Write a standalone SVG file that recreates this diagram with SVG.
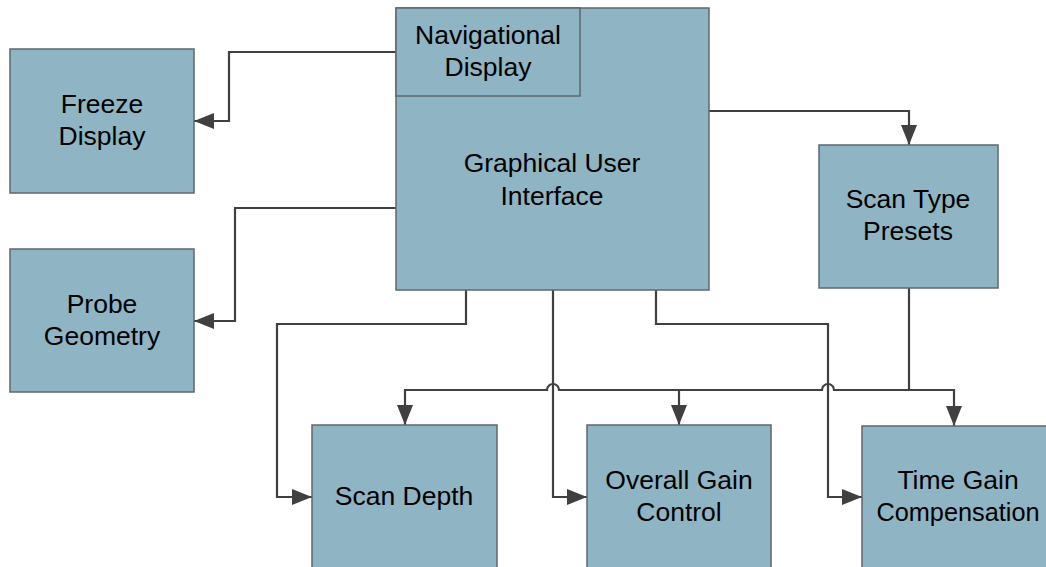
<svg xmlns="http://www.w3.org/2000/svg" width="1046" height="567" viewBox="0 0 1046 567">
  <style>
    .box { fill: #8fb4c3; stroke: #5e686c; stroke-width: 1.5; }
    .lbl { font-family: "Liberation Sans", Arial, sans-serif; font-size: 26.5px; fill: #000; text-anchor: middle; }
    .wire { fill: none; stroke: #404040; stroke-width: 2.2; stroke-linejoin: miter; }
  </style>
  <defs>
    <marker id="head" viewBox="0 0 20 16" refX="20" refY="8" markerWidth="20" markerHeight="16" orient="auto" markerUnits="userSpaceOnUse">
      <path d="M0,0 L20,8 L0,16 z" fill="#404040"/>
    </marker>
  </defs>

  <rect width="1046" height="567" fill="#ffffff"/>

  <!-- connectors -->
  <g id="connectors">
    <!-- GUI to Freeze Display -->
    <path class="wire" d="M396,52 H229 V121 H194" marker-end="url(#head)"/>
    <!-- GUI to Probe Geometry -->
    <path class="wire" d="M396,208 H235 V321 H194" marker-end="url(#head)"/>
    <!-- GUI to Scan Type Presets -->
    <path class="wire" d="M709,111 H909 V145" marker-end="url(#head)"/>
    <!-- GUI to Scan Depth -->
    <path class="wire" d="M466,290 V324 H277 V497 H312" marker-end="url(#head)"/>
    <!-- GUI to Overall Gain Control -->
    <path class="wire" d="M553,290 V497 H587" marker-end="url(#head)"/>
    <!-- GUI to Time Gain Compensation -->
    <path class="wire" d="M656,290 V324 H828 V497 H862" marker-end="url(#head)"/>
    <!-- Scan Type Presets distribution bus, hopping over the vertical wires -->
    <path class="wire" d="M909,288 V390"/>
    <path class="wire" d="M954,390 H834 A6,6 0 0 0 822,390 H559 A6,6 0 0 0 547,390 H405 V425" marker-end="url(#head)"/>
    <path class="wire" d="M679,390 V425" marker-end="url(#head)"/>
    <path class="wire" d="M954,389 V426" marker-end="url(#head)"/>
  </g>

  <g id="gui">
    <rect class="box" x="396" y="8" width="313" height="282"/>
    <text class="lbl" x="552" y="172">Graphical User</text>
    <text class="lbl" x="552" y="205">Interface</text>
  </g>

  <g id="nav-display">
    <rect class="box" x="396" y="8" width="184" height="88"/>
    <text class="lbl" x="488" y="44">Navigational</text>
    <text class="lbl" x="488" y="76">Display</text>
  </g>

  <g id="freeze-display">
    <rect class="box" x="10" y="49" width="184" height="144"/>
    <text class="lbl" x="102" y="113">Freeze</text>
    <text class="lbl" x="102" y="145">Display</text>
  </g>

  <g id="probe-geometry">
    <rect class="box" x="10" y="249" width="184" height="143"/>
    <text class="lbl" x="102" y="313">Probe</text>
    <text class="lbl" x="102" y="345">Geometry</text>
  </g>

  <g id="scan-type-presets">
    <rect class="box" x="819" y="145" width="179" height="143"/>
    <text class="lbl" x="908" y="208">Scan Type</text>
    <text class="lbl" x="908" y="240">Presets</text>
  </g>

  <g id="scan-depth">
    <rect class="box" x="312" y="425" width="185" height="150"/>
    <text class="lbl" x="404" y="505">Scan Depth</text>
  </g>

  <g id="overall-gain">
    <rect class="box" x="587" y="425" width="184" height="150"/>
    <text class="lbl" x="679" y="489">Overall Gain</text>
    <text class="lbl" x="679" y="521">Control</text>
  </g>

  <g id="time-gain">
    <rect class="box" x="862" y="426" width="190" height="150"/>
    <text class="lbl" x="958" y="489">Time Gain</text>
    <text class="lbl" x="958" y="521" style="font-size:25.3px">Compensation</text>
  </g>
</svg>
